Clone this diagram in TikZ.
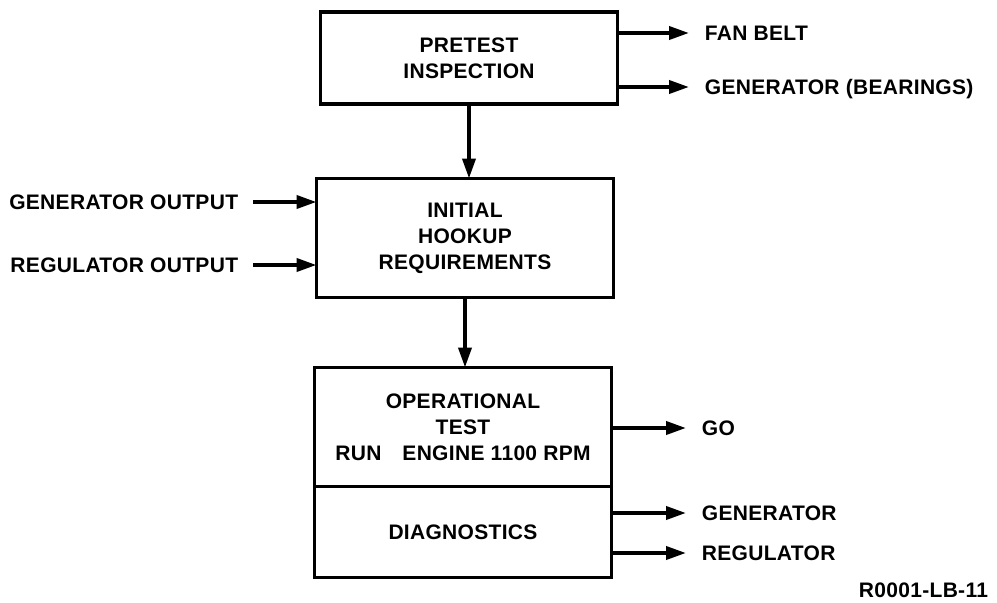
\documentclass[tikz,border=0pt]{standalone}
\usepackage{fontspec}
\setmainfont{Liberation Sans}[LetterSpace=1.5]
\usetikzlibrary{arrows.meta, positioning}

\begin{document}
\begin{tikzpicture}[
  x=1pt, y=-1pt,
  >={Triangle[length=20pt, width=13pt]}, line width=3.8pt,
  box/.style = {draw, rectangle, outer sep=0pt, minimum width=297pt, align=center,
                font=\fontsize{21}{26}\selectfont\bfseries},
  lbl/.style = {inner sep=0pt, text height=15pt, text depth=0pt,
                font=\fontsize{21}{24}\selectfont\bfseries},
]
  \useasboundingbox (0,0) rectangle (997,603);

  \node[box, minimum height=92pt]  (pretest) at (469,58)  {PRETEST\\INSPECTION};
  \node[box, minimum height=119pt] (hookup)  at (465,238) {INITIAL\\HOOKUP\\REQUIREMENTS};
  \node[box, minimum height=119pt] (optest)  at (463,427) {OPERATIONAL\\TEST\\RUN\quad ENGINE 1100 RPM};
  % diagnostics sits right under the test box, sharing its edge
  \node[box, minimum height=91pt, below=0pt of optest] (diag) {DIAGNOSTICS};

  \node[lbl, anchor=west] (fan)    at (703,33)  {FAN BELT};
  \node[lbl, anchor=west] (bear)   at (703,87)  {GENERATOR (BEARINGS)};
  \node[lbl, anchor=east] (genout) at (240,202) {GENERATOR OUTPUT};
  \node[lbl, anchor=east] (regout) at (240,265) {REGULATOR OUTPUT};
  \node[lbl, anchor=west] (go)     at (700,428) {GO};
  \node[lbl, anchor=west] (gen)    at (700,513) {GENERATOR};
  \node[lbl, anchor=west] (reg)    at (700,553) {REGULATOR};
  \node[lbl, anchor=east] (code)   at (990,590) {R0001-LB-11};

  \draw[->, shorten >=14pt] (pretest.east |- fan.west)  -- (fan.west);
  \draw[->, shorten >=14pt] (pretest.east |- bear.west) -- (bear.west);
  \draw[->] (pretest.south) -- (pretest.south |- hookup.north);
  \draw[->, shorten <=13pt] (genout.east) -- (genout.east -| hookup.west);
  \draw[->, shorten <=13pt] (regout.east) -- (regout.east -| hookup.west);
  \draw[->] (hookup.south) -- (hookup.south |- optest.north);
  \draw[->, shorten >=14pt] (optest.east |- go.west)  -- (go.west);
  \draw[->, shorten >=14pt] (diag.east |- gen.west)   -- (gen.west);
  \draw[->, shorten >=14pt] (diag.east |- reg.west)   -- (reg.west);
\end{tikzpicture}
\end{document}
